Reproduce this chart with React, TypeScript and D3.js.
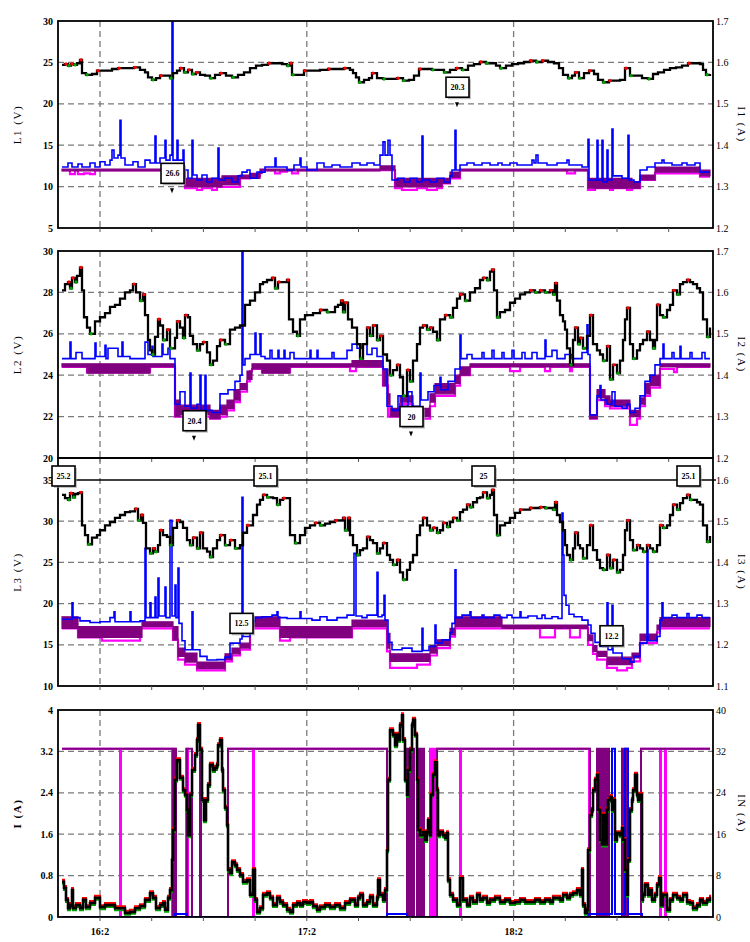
import React from "react";
import * as d3 from "d3";

type P = [number, number];
type B = [number, number, number];

// time axis: sample index, minor tick every 51.7 samples
const firstTick = 38;
const tickStep = 51.7;
const timeLabels = ["16:2", "17:2", "18:2"];

// ---------- L1 ----------
const l1Ticks = [5, 10, 15, 20, 25, 30];
const l1RightTicks = [1.2, 1.3, 1.4, 1.5, 1.6, 1.7];
const l1Black: P[] = [[0,24.7],[3,24.8],[6,24.6],[9,24.8],[12,24.7],[15,24.9],[18,25.3],[20,23.7],[24,23.5],[30,23.6],[35,24.0],[43,24.0],[50,24.2],[56,24.3],[64,24.3],[72,24.4],[78,24.1],[83,23.8],[86,23.2],[90,22.9],[94,23.1],[98,23.4],[104,23.4],[108,23.1],[111,23.7],[115,24.0],[118,24.3],[122,23.8],[126,24.1],[130,23.6],[134,23.8],[138,23.5],[143,23.4],[148,23.1],[153,23.5],[158,23.7],[164,23.4],[170,23.2],[176,23.5],[182,23.8],[188,24.3],[194,24.6],[200,24.7],[206,24.9],[213,24.9],[220,24.8],[225,24.6],[228,24.9],[230,23.5],[236,23.5],[242,24.0],[250,24.0],[258,24.1],[266,24.2],[274,24.2],[282,24.3],[288,24.1],[291,23.7],[294,23.2],[297,22.6],[302,22.9],[307,23.1],[310,23.7],[315,23.1],[321,23.0],[328,23.0],[335,23.1],[341,22.8],[347,22.9],[352,23.4],[357,24.2],[363,24.2],[370,24.1],[376,24.1],[382,23.8],[388,24.1],[394,24.3],[400,24.1],[406,24.6],[412,24.8],[418,25.05],[424,24.9],[430,24.9],[434,24.6],[438,24.3],[444,24.6],[450,24.8],[456,24.9],[462,25.05],[468,25.2],[474,25.05],[480,25.2],[486,25.05],[492,24.9],[497,24.3],[501,23.5],[506,23.1],[510,23.4],[513,23.8],[517,23.1],[522,23.7],[527,24.0],[532,23.6],[536,22.9],[541,22.6],[547,22.8],[553,22.8],[558,22.9],[563,24.3],[568,23.4],[574,23.4],[580,23.1],[586,23.0],[591,23.6],[596,23.8],[602,24.1],[608,24.3],[614,24.4],[620,24.6],[626,24.9],[632,24.9],[638,24.8],[641,24.1],[644,23.5],[648,23.6]];
const l1Blue: P[] = [[0,12.36],[6,12.85],[10,12.36],[16,12.73],[20,12.36],[28,12.85],[33,12.36],[38,13.0],[43,12.6],[48,13.2],[50,14.4],[52,13.45],[56,13.8],[58,18.0],[59,13.45],[63,12.6],[71,13.0],[76,12.36],[83,13.2],[88,12.85],[93,16.1],[94,12.85],[98,13.45],[103,15.6],[104,13.2],[108,13.8],[110,30],[111,13.2],[115,15.6],[116,13.2],[121,14.4],[122,12.0],[126,11.0],[130,15.6],[131,11.4],[135,10.8],[140,11.4],[145,10.55],[150,11.0],[156,14.65],[157,10.8],[163,11.0],[170,10.55],[176,11.3],[180,11.75],[185,12.0],[188,11.0],[195,11.75],[203,12.36],[205,12.36],[213,13.45],[214,12.36],[225,12.0],[232,12.6],[238,13.45],[239,12.36],[245,12.0],[255,12.85],[262,12.36],[270,12.6],[278,12.36],[290,12.85],[298,12.6],[305,12.85],[312,12.6],[318,13.8],[321,15.4],[323,13.8],[326,15.6],[328,13.8],[330,10.8],[336,11.0],[342,10.55],[348,11.0],[355,10.55],[360,16.1],[361,10.8],[368,10.55],[375,11.0],[382,10.55],[388,11.3],[390,12.0],[393,16.8],[394,12.0],[398,12.6],[405,12.85],[412,12.6],[420,12.85],[428,12.6],[436,12.85],[440,12.6],[448,12.85],[455,12.6],[470,13.2],[472,12.85],[474,13.8],[476,12.85],[485,12.6],[495,12.85],[505,13.2],[507,12.6],[515,12.6],[520,12.36],[526,15.7],[527,10.8],[535,15.6],[536,10.8],[540,15.6],[541,10.55],[545,14.4],[546,10.8],[550,16.95],[551,11.3],[560,11.0],[566,16.2],[567,10.8],[572,10.55],[578,12.0],[585,12.36],[593,12.85],[600,13.2],[602,12.85],[610,12.6],[620,12.85],[625,12.6],[633,12.85],[638,11.75],[648,11.75]];
const l1Band: B[] = [[0,12.1,11.9],[123,11.0,9.95],[160,11.3,10.2],[178,11.4,11.0],[188,11.6,11.0],[198,12.1,11.6],[200,12.1,11.9],[318,12.5,12.0],[333,11.0,9.95],[380,11.0,10.4],[388,11.75,11.1],[398,12.1,11.9],[526,11.0,9.8],[570,10.6,9.8],[578,11.4,10.8],[593,12.36,11.75],[638,12.0,11.3],[648,12.0,11.3]];
const l1Mag: P[] = [[0,12.0],[8,11.5],[13,12.0],[16,11.5],[22,11.6],[28,11.5],[33,12.0],[123,9.8],[135,9.6],[140,9.8],[150,9.6],[155,9.95],[178,11.0],[188,11.3],[198,11.75],[200,12.0],[213,11.6],[218,11.8],[225,12.0],[230,11.6],[236,12.0],[333,9.8],[340,9.6],[355,9.8],[365,9.6],[375,9.8],[380,10.4],[388,11.0],[398,12.0],[505,11.6],[513,12.0],[526,9.6],[533,9.8],[548,9.6],[551,9.8],[565,9.6],[570,9.8],[578,10.8],[593,11.6],[638,11.2],[648,11.2]];
const l1Notes = [{ t: 110, v: 11.6, label: "26.6" }, { t: 395, v: 22.0, label: "20.3" }];

// ---------- L2 ----------
const l2Ticks = [20, 22, 24, 26, 28, 30];
const l2RightTicks = [1.2, 1.3, 1.4, 1.5, 1.6, 1.7];
const l2Black: P[] = [[0,28.1],[3,28.4],[6,28.5],[8,28.2],[10,28.7],[13,28.5],[15,28.8],[18,29.2],[20,28.1],[22,26.8],[25,26.3],[28,26.0],[33,26.6],[38,26.8],[43,27.0],[48,27.3],[53,27.4],[58,27.7],[63,28.0],[68,28.1],[71,28.4],[74,28.0],[78,27.6],[81,27.9],[83,26.9],[86,25.7],[88,25.2],[90,25.0],[93,25.85],[96,26.7],[98,26.4],[101,25.7],[105,26.2],[108,25.3],[113,25.8],[115,26.6],[118,26.3],[121,25.8],[123,26.9],[126,26.8],[128,25.9],[131,25.5],[135,25.2],[138,25.5],[141,25.6],[145,25.1],[148,24.5],[151,24.7],[155,25.4],[158,25.7],[163,25.5],[168,26.2],[173,26.3],[178,26.4],[183,27.4],[188,27.6],[193,28.0],[198,28.4],[201,28.5],[205,28.6],[210,28.7],[213,28.2],[216,28.5],[221,28.5],[225,28.6],[227,26.7],[231,26.1],[235,25.9],[238,26.7],[243,26.9],[251,27.0],[258,27.15],[265,27.05],[273,27.3],[276,27.4],[279,27.6],[281,27.05],[283,27.5],[286,26.7],[290,26.3],[295,25.5],[298,24.8],[301,25.5],[305,26.3],[308,25.9],[311,26.4],[315,25.7],[318,25.9],[321,25.0],[325,24.7],[328,24.0],[331,24.25],[335,24.5],[338,23.9],[341,23.0],[345,24.25],[348,23.7],[351,24.7],[355,25.5],[358,26.3],[361,26.4],[365,26.2],[368,26.3],[371,26.1],[375,25.7],[378,26.7],[383,26.9],[388,26.8],[391,27.25],[395,27.7],[398,27.9],[403,27.6],[408,28.0],[413,28.2],[418,28.6],[421,28.7],[425,28.6],[428,29.0],[430,29.1],[432,28.1],[435,26.8],[438,27.05],[443,27.15],[448,27.5],[453,27.7],[458,27.9],[463,28.0],[468,28.1],[473,28.0],[478,28.1],[483,28.0],[488,28.1],[491,27.9],[493,28.45],[495,27.6],[498,26.9],[501,26.6],[503,26.2],[505,25.3],[508,24.5],[511,25.7],[513,26.3],[516,25.5],[518,25.8],[521,25.3],[525,25.9],[528,26.9],[531,25.5],[535,25.2],[538,25.0],[541,24.7],[545,25.4],[548,23.8],[551,24.5],[555,24.1],[558,24.7],[561,25.7],[563,26.7],[565,27.25],[568,25.5],[571,24.8],[575,25.2],[578,25.5],[581,25.7],[585,26.1],[588,25.7],[591,25.3],[593,25.7],[595,27.4],[598,26.9],[601,26.8],[605,27.15],[608,27.4],[611,28.1],[615,27.9],[618,28.4],[621,28.5],[625,28.6],[628,28.5],[631,28.4],[635,28.2],[638,28.0],[641,26.7],[645,25.85],[648,26.3]];
const l2Blue: P[] = [[0,24.8],[8,25.6],[9,24.8],[14,25.1],[20,24.8],[33,25.55],[34,24.9],[43,25.45],[44,24.8],[46,25.3],[56,24.9],[60,25.6],[61,24.9],[68,24.8],[83,25.6],[86,25.0],[90,25.4],[91,24.9],[100,25.5],[101,25.0],[106,25.3],[108,24.8],[113,22.6],[118,23.2],[123,22.5],[128,24.1],[129,22.4],[135,22.6],[138,24.0],[139,22.3],[143,24.0],[144,22.3],[150,22.2],[158,23.1],[166,23.3],[173,23.7],[178,24.0],[180,30],[181,24.5],[183,24.8],[188,25.0],[193,26.04],[194,25.0],[198,26.0],[199,24.9],[203,24.8],[208,25.2],[210,24.8],[216,25.2],[217,24.8],[222,25.2],[223,24.8],[228,25.1],[232,24.8],[248,25.2],[249,24.8],[255,25.2],[256,24.8],[270,25.1],[272,24.8],[285,25.2],[290,25.5],[295,25.3],[300,25.5],[305,25.0],[310,25.3],[315,24.9],[321,24.3],[325,22.5],[330,22.3],[336,23.0],[340,22.5],[346,23.2],[350,22.5],[358,24.1],[359,22.8],[366,23.2],[372,23.5],[378,23.9],[379,23.3],[386,23.7],[393,24.3],[398,25.94],[399,24.8],[405,25.0],[410,24.8],[420,25.1],[422,24.8],[430,25.2],[432,24.8],[440,25.1],[442,24.8],[450,25.2],[452,24.8],[460,25.1],[463,24.8],[470,25.1],[475,24.8],[483,25.7],[484,24.9],[490,25.2],[495,24.8],[503,25.0],[510,24.8],[520,25.1],[525,26.43],[526,25.0],[528,22.08],[535,23.0],[538,23.5],[539,22.8],[545,22.6],[550,23.2],[553,22.5],[560,22.4],[565,22.6],[568,22.2],[573,22.4],[578,23.0],[583,23.7],[588,24.0],[593,24.5],[598,24.8],[601,25.5],[602,24.8],[610,25.1],[612,24.8],[618,25.4],[619,24.8],[628,25.1],[630,24.8],[640,25.1],[643,24.8],[648,24.8]];
const l2Band: B[] = [[0,24.55,24.4],[25,24.55,24.1],[88,24.55,24.4],[113,22.8,22.0],[118,22.55,22.1],[148,22.3,21.9],[158,22.55,22.1],[165,22.8,22.4],[172,23.3,22.8],[178,23.6,23.3],[185,24.2,23.8],[190,24.55,24.3],[200,24.55,24.1],[228,24.55,24.4],[290,24.7,24.4],[321,24.3,23.5],[326,23.1,22.6],[328,22.4,22.0],[338,23.0,22.7],[351,22.4,22.0],[368,23.1,22.7],[373,23.6,23.1],[393,24.0,23.6],[398,24.4,24.0],[408,24.55,24.4],[528,22.1,21.9],[535,23.3,22.9],[543,23.0,22.6],[548,22.8,22.5],[568,22.3,22.0],[578,22.9,22.6],[583,23.6,23.1],[588,24.0,23.5],[598,24.55,24.4],[648,24.55,24.4]];
const l2Mag: P[] = [[0,24.4],[25,24.15],[88,24.4],[113,22.0],[148,21.9],[158,22.0],[165,22.3],[172,22.7],[178,23.2],[185,23.7],[188,24.2],[190,24.3],[200,24.15],[228,24.4],[288,24.2],[294,24.4],[321,23.5],[326,22.0],[338,22.6],[351,21.9],[368,22.5],[373,23.0],[393,23.5],[398,24.0],[408,24.4],[448,24.2],[458,24.4],[483,24.2],[488,24.4],[508,24.2],[510,24.4],[528,21.9],[535,22.8],[543,22.5],[548,22.4],[568,21.6],[575,21.9],[578,22.5],[583,23.0],[588,23.4],[598,24.3],[612,24.15],[615,24.4],[648,24.4]];
const l2Notes = [{ t: 132, v: 21.8, label: "20.4" }, { t: 349, v: 22.0, label: "20" }];

// ---------- L3 ----------
const l3Ticks = [10, 15, 20, 25, 30, 35];
const l3RightTicks = [1.1, 1.2, 1.3, 1.4, 1.5, 1.6];
const l3Black: P[] = [[0,33.2],[3,32.8],[6,32.6],[8,33.4],[11,32.9],[13,33.3],[16,33.4],[18,33.5],[20,29.5],[23,28.3],[26,27.2],[30,28.0],[35,28.3],[38,28.9],[43,29.5],[48,29.9],[53,30.4],[58,30.75],[63,31.1],[68,31.2],[73,31.5],[76,30.1],[79,30.75],[81,29.8],[84,26.7],[88,26.1],[91,26.7],[93,26.3],[96,27.1],[98,28.9],[101,28.3],[105,28.1],[108,27.1],[111,29.2],[115,30.1],[118,29.9],[121,29.2],[125,27.7],[128,27.1],[131,28.0],[135,26.7],[138,28.6],[141,26.7],[145,26.3],[148,25.65],[151,26.7],[155,27.7],[158,28.3],[163,27.1],[168,27.7],[173,26.7],[178,27.1],[181,28.6],[185,29.5],[188,29.5],[191,30.75],[195,32.0],[198,32.6],[201,33.2],[205,32.9],[208,32.9],[211,32.8],[215,32.0],[218,32.6],[221,32.8],[225,32.8],[228,28.3],[233,27.35],[238,28.3],[243,29.2],[248,29.5],[253,29.8],[258,29.5],[263,29.7],[268,29.9],[273,30.1],[278,30.1],[281,30.4],[283,28.9],[286,30.4],[288,28.3],[291,27.1],[295,25.9],[298,26.5],[301,26.7],[305,28.1],[308,27.7],[311,27.35],[315,26.1],[318,26.7],[321,27.35],[325,25.9],[328,25.3],[331,24.7],[335,25.3],[338,23.8],[341,22.9],[345,24.1],[348,25.0],[351,25.9],[355,28.3],[358,29.5],[361,30.4],[365,29.5],[368,28.9],[371,29.2],[375,28.6],[378,28.9],[381,29.8],[385,29.3],[388,29.9],[391,30.4],[395,30.1],[398,31.1],[401,31.4],[405,32.0],[408,31.7],[411,32.3],[415,32.8],[418,32.9],[421,33.5],[425,32.8],[428,33.2],[430,33.8],[432,30.75],[435,28.3],[438,29.5],[443,29.8],[448,30.4],[453,31.0],[458,31.4],[463,31.4],[468,31.6],[473,31.6],[478,31.7],[483,31.6],[488,31.6],[491,31.4],[493,32.3],[495,30.75],[498,29.9],[501,28.9],[503,27.1],[505,25.9],[508,25.3],[511,26.7],[513,28.6],[516,27.1],[518,26.7],[521,25.5],[525,27.1],[528,29.5],[531,26.5],[535,25.3],[538,24.3],[541,24.1],[545,25.9],[548,24.3],[551,25.3],[555,23.8],[558,24.1],[561,25.9],[563,28.9],[565,30.1],[568,27.7],[571,26.5],[575,27.1],[578,26.7],[581,26.3],[585,27.1],[588,26.7],[591,26.3],[595,27.1],[598,29.5],[601,29.2],[605,29.5],[608,30.75],[611,32.0],[615,31.4],[618,32.2],[621,32.8],[625,33.2],[628,32.6],[631,32.6],[635,32.3],[638,32.0],[641,29.5],[645,27.5],[648,28.2]];
const l3Blue: P[] = [[0,18.1],[10,20.1],[11,18.3],[18,17.9],[28,17.7],[38,17.8],[48,18.3],[52,19.0],[53,17.8],[62,17.8],[68,19.0],[69,17.8],[78,17.9],[83,26.7],[84,18.3],[88,20.1],[89,18.3],[93,20.8],[94,18.3],[96,23.1],[97,18.5],[103,22.0],[104,18.3],[108,30.1],[110,18.5],[113,22.25],[114,18.3],[116,24.3],[117,17.6],[120,15.5],[123,14.4],[130,19.0],[131,14.4],[138,13.6],[145,13.15],[155,13.2],[163,13.5],[168,15.2],[178,15.7],[180,32.9],[181,16.0],[188,17.8],[193,18.3],[200,18.4],[210,18.6],[215,19.0],[216,18.3],[225,18.2],[238,19.0],[239,18.2],[250,18.0],[258,18.4],[265,18.0],[275,18.3],[285,18.6],[292,26.1],[294,18.5],[300,18.3],[305,18.6],[315,23.8],[316,18.4],[320,18.6],[322,21.0],[323,18.0],[326,15.3],[330,14.4],[340,14.6],[350,14.2],[360,17.0],[361,14.3],[367,14.8],[373,17.4],[374,15.2],[380,15.6],[388,16.5],[390,17.6],[393,24.1],[394,18.3],[400,18.6],[408,19.0],[409,18.3],[420,18.6],[422,18.3],[432,18.6],[438,18.3],[445,18.6],[450,18.3],[458,19.0],[459,18.3],[466,18.5],[475,18.2],[480,18.6],[483,18.2],[490,18.4],[496,18.2],[500,31.0],[501,25.9],[502,21.0],[504,19.8],[507,18.7],[512,18.4],[520,18.0],[526,17.4],[529,16.4],[533,15.3],[538,14.8],[545,20.1],[546,14.4],[550,19.8],[551,14.0],[560,13.3],[568,12.9],[572,13.6],[578,15.2],[585,26.5],[586,15.5],[595,16.0],[598,18.0],[600,20.1],[601,18.3],[610,18.6],[615,18.3],[625,18.8],[627,18.3],[635,18.6],[640,18.3],[648,18.3]];
const l3Band: B[] = [[0,18.4,17.0],[16,17.2,15.9],[80,17.8,17.2],[111,17.2,15.6],[116,14.6,13.6],[123,14.0,12.9],[135,12.9,12.1],[163,13.9,13.2],[170,14.6,13.9],[178,15.2,14.6],[188,18.0,17.2],[193,18.4,17.2],[218,17.2,15.9],[290,18.0,17.2],[325,16.4,14.6],[328,13.9,13.0],[368,14.9,14.0],[375,15.6,14.9],[388,17.0,16.2],[393,18.4,17.2],[440,17.4,17.0],[526,16.2,15.5],[531,14.9,14.2],[535,14.2,13.6],[545,13.5,12.6],[570,14.0,13.4],[578,16.3,15.5],[595,17.4,16.8],[598,18.3,17.2],[648,18.3,17.2]];
const l3Mag: P[] = [[0,17.0],[16,15.9],[40,15.5],[78,17.0],[111,15.6],[116,13.2],[123,12.6],[135,11.9],[163,13.0],[170,13.7],[178,14.4],[188,17.0],[218,15.5],[228,15.9],[290,17.0],[325,14.2],[328,12.2],[355,12.6],[368,13.7],[375,14.6],[388,16.0],[393,17.0],[478,15.9],[493,17.0],[508,15.9],[518,17.0],[526,15.0],[531,13.9],[535,13.2],[545,12.2],[555,11.9],[565,12.2],[570,13.0],[578,15.2],[595,16.5],[598,17.0],[648,17.0]];
const l3Notes = [{ t: 179, v: 17.6, label: "12.5" }, { t: 549, v: 16.1, label: "12.2" }];
const l3Ref = 35;
const l3RefNotes = [{ t: 1, label: "25.2" }, { t: 203, label: "25.1" }, { t: 421, label: "25" }, { t: 626, label: "25.1" }];

// ---------- I ----------
const iTicks = [0, 0.8, 1.6, 2.4, 3.2, 4];
const iRightTicks = [0, 8, 16, 24, 32, 40];
const iBlack: P[] = [[0,0.68],[2,0.56],[4,0.33],[6,0.17],[8,0.23],[10,0.52],[11,0.17],[14,0.23],[18,0.17],[21,0.33],[24,0.19],[28,0.27],[33,0.37],[38,0.19],[43,0.23],[48,0.23],[53,0.17],[58,0.17],[63,0.08],[68,0.10],[73,0.17],[78,0.21],[83,0.33],[88,0.46],[91,0.37],[94,0.17],[98,0.23],[101,0.27],[103,0.14],[106,0.37],[108,0.52],[110,1.10],[111,1.68],[113,2.65],[115,3.03],[118,2.69],[121,2.45],[123,2.36],[125,2.07],[126,1.58],[128,2.36],[130,2.84],[133,3.13],[135,3.42],[136,3.71],[138,3.23],[140,2.26],[142,1.87],[144,2.26],[146,2.55],[148,2.94],[151,2.84],[153,2.88],[155,2.94],[156,3.32],[158,3.42],[160,2.84],[161,2.45],[163,2.11],[165,1.78],[166,0.91],[168,0.85],[170,1.06],[173,1.0],[175,0.91],[178,0.81],[181,0.68],[185,0.71],[188,0.43],[191,0.91],[193,0.33],[195,0.10],[198,0.17],[201,0.43],[205,0.46],[208,0.37],[211,0.23],[215,0.37],[218,0.29],[221,0.23],[225,0.14],[228,0.10],[231,0.23],[235,0.27],[238,0.23],[241,0.29],[245,0.27],[248,0.29],[251,0.21],[255,0.14],[258,0.19],[263,0.23],[268,0.19],[273,0.23],[278,0.17],[283,0.27],[288,0.33],[293,0.23],[296,0.37],[298,0.43],[301,0.23],[305,0.29],[308,0.39],[311,0.23],[315,0.37],[316,0.71],[318,0.43],[321,0.33],[323,0.52],[325,1.29],[326,2.65],[328,3.61],[331,3.52],[333,3.32],[335,3.52],[336,3.42],[338,3.71],[340,3.90],[341,3.42],[343,2.65],[345,2.36],[346,2.84],[348,3.23],[350,3.71],[351,3.81],[353,3.52],[355,2.65],[356,1.68],[358,1.58],[361,1.64],[363,1.49],[365,1.64],[366,1.87],[368,1.58],[369,2.36],[371,2.75],[373,2.99],[375,2.45],[376,1.58],[378,1.64],[381,1.58],[383,1.53],[385,1.62],[386,0.71],[388,0.43],[391,0.33],[395,0.23],[398,0.75],[401,0.33],[405,0.23],[408,0.37],[411,0.29],[415,0.43],[418,0.33],[421,0.37],[425,0.27],[428,0.33],[433,0.37],[438,0.29],[443,0.33],[448,0.27],[453,0.29],[458,0.33],[463,0.29],[468,0.29],[473,0.33],[478,0.29],[483,0.33],[488,0.29],[491,0.37],[495,0.37],[498,0.33],[501,0.43],[505,0.37],[508,0.43],[511,0.46],[515,0.52],[518,0.43],[520,0.91],[521,0.23],[523,0.08],[525,0.14],[526,1.29],[528,1.97],[530,2.07],[531,2.45],[533,2.65],[535,2.75],[536,2.07],[538,1.49],[540,1.40],[541,1.97],[543,1.40],[545,2.07],[546,2.26],[548,2.32],[550,2.07],[551,2.26],[553,1.49],[555,1.62],[558,1.58],[560,1.72],[561,1.49],[563,0.91],[565,0.43],[566,1.10],[568,2.07],[570,2.26],[571,2.45],[573,2.75],[575,2.36],[576,2.26],[578,2.36],[580,0.33],[581,0.43],[583,0.62],[586,0.43],[588,0.52],[590,0.33],[593,0.43],[595,0.62],[597,0.75],[599,0.23],[601,0.43],[605,0.14],[608,0.33],[611,0.43],[615,0.37],[618,0.33],[621,0.43],[625,0.29],[628,0.27],[631,0.17],[635,0.23],[638,0.33],[641,0.27],[645,0.33],[648,0.39]];
const iPurple: P[] = [[0,3.25],[111,0],[113,3.25],[114,0],[125,3.25],[130,0],[138,3.25],[139,0],[166,3.25],[325,0],[345,3.25],[346,0],[347,3.25],[348,0],[349,3.25],[350,0],[351,3.25],[352,0],[355,3.25],[356,0],[357,3.25],[358,0],[359,3.25],[360,0],[361,3.25],[362,0],[375,3.25],[528,0],[535,3.25],[536,0],[537,3.25],[538,0],[540,3.25],[541,0],[543,3.25],[544,0],[546,3.25],[547,0],[560,3.25],[561,0],[562,3.25],[563,0],[565,3.25],[566,0],[579,3.25],[648,3.25]];
const iMag: P[] = [[0,3.25],[58,0],[59,3.25],[110,0],[112,3.25],[113,0],[124,3.25],[126,0],[166,3.25],[191,0],[192,3.25],[325,0],[368,3.25],[369,0],[370,3.25],[371,0],[372,3.25],[373,0],[374,3.25],[398,0],[399,3.25],[527,0],[579,3.25],[598,0],[599,3.25],[603,0],[604,3.25],[648,3.25]];
const iBlue: P[] = [[0,0],[113,0.06],[125,0],[325,0.06],[345,0],[526,0.06],[550,3.25],[553,0.06],[563,3.25],[566,0.06],[580,0],[648,0]];

const FONT = "'Liberation Serif', 'DejaVu Serif', serif";
const x = d3.scaleLinear().domain([-4, 651]).range([58, 713]);
const minorTicks = d3.range(12).map((k) => firstTick + k * tickStep);
const majorTicks = [0, 4, 8].map((k) => firstTick + k * tickStep);

type Panel = {
  id: string;
  frameTop: number;
  frameBottom: number;
  rangeTop: number;
  domain: [number, number];
  ticks: number[];
  rTicks: number[];
  fmt: (v: number) => string;
  rFmt: (v: number) => string;
  title: string;
  rTitle: string;
  bold?: boolean;
};

const panels: Panel[] = [
  { id: "p1", frameTop: 21, frameBottom: 228, rangeTop: 21, domain: [5, 30], ticks: l1Ticks, rTicks: l1RightTicks, fmt: d3.format("d"), rFmt: d3.format(".1f"), title: "L1 (V)", rTitle: "I1 (A)" },
  { id: "p2", frameTop: 251, frameBottom: 458, rangeTop: 251, domain: [20, 30], ticks: l2Ticks, rTicks: l2RightTicks, fmt: d3.format("d"), rFmt: d3.format(".1f"), title: "L2 (V)", rTitle: "I2 (A)" },
  { id: "p3", frameTop: 458, frameBottom: 686, rangeTop: 480, domain: [10, 35], ticks: l3Ticks, rTicks: l3RightTicks, fmt: d3.format("d"), rFmt: d3.format(".1f"), title: "L3 (V)", rTitle: "I3 (A)" },
  { id: "p4", frameTop: 710, frameBottom: 917, rangeTop: 710, domain: [0, 4], ticks: iTicks, rTicks: iRightTicks, fmt: (v) => (v === 0 || v === 4 ? String(v) : d3.format(".1f")(v)), rFmt: d3.format("d"), title: "I (A)", rTitle: "IN (A)", bold: true },
];

function yScale(p: Panel) {
  return d3.scaleLinear().domain(p.domain).range([p.frameBottom, p.rangeTop]);
}

function stepPath(data: P[], y: d3.ScaleLinear<number, number>) {
  return d3.line<P>().x((d) => x(d[0])).y((d) => y(d[1])).curve(d3.curveStepAfter)(data) || "";
}
function bandPath(data: B[], y: d3.ScaleLinear<number, number>) {
  return d3.area<B>().x((d) => x(d[0])).y0((d) => y(d[2])).y1((d) => y(d[1])).curve(d3.curveStepAfter)(data) || "";
}
function extremes(data: P[]) {
  const hi: P[] = [];
  const lo: P[] = [];
  for (let i = 1; i < data.length - 1; i++) {
    const a = data[i - 1][1], b = data[i][1], c = data[i + 1][1];
    if (b > a && b >= c) hi.push(data[i]);
    else if (b < a && b <= c) lo.push(data[i]);
  }
  return { hi, lo };
}

function Note({ cx, cy, label, marker }: { cx: number; cy: number; label: string; marker?: boolean }) {
  return (
    <g>
      <rect x={cx - 11 + 2} y={cy - 10 + 2} width={23} height={20} fill="#9a9a9a" opacity={0.6} />
      <rect x={cx - 11} y={cy - 10} width={23} height={20} fill="#fff" stroke="#000" strokeWidth={1.6} />
      <text x={cx + 0.5} y={cy + 3} textAnchor="middle" fontFamily={FONT} fontWeight="bold" fontSize={8}>{label}</text>
      {marker && <path d={`M${cx - 2},${cy + 15}L${cx + 2},${cy + 15}L${cx},${cy + 20}Z`} fill="#000" />}
    </g>
  );
}

function Frame({ p, children }: { p: Panel; children: React.ReactNode }) {
  const y = yScale(p);
  const inner = p.ticks.slice(1, -1);
  return (
    <g>
      <clipPath id={`clip-${p.id}`}>
        <rect x={58} y={p.frameTop} width={655} height={p.frameBottom - p.frameTop} />
      </clipPath>
      {/* grid */}
      {inner.map((t) => (
        <line key={t} x1={58} x2={713} y1={y(t)} y2={y(t)} stroke="#7a7a7a" strokeWidth={1.3} strokeDasharray="6,4" />
      ))}
      {majorTicks.map((t) => (
        <line key={t} x1={x(t)} x2={x(t)} y1={p.frameTop} y2={p.frameBottom} stroke="#7a7a7a" strokeWidth={1.3} strokeDasharray="6,4" />
      ))}
      <g clipPath={`url(#clip-${p.id})`}>{children}</g>
      <rect x={58} y={p.frameTop} width={655} height={p.frameBottom - p.frameTop} fill="none" stroke="#000" strokeWidth={1.8} />
      {minorTicks.map((t) => (
        <line key={t} x1={x(t)} x2={x(t)} y1={p.frameBottom} y2={p.frameBottom + 4} stroke="#555" strokeWidth={1} />
      ))}
      {p.ticks.map((t) => (
        <text key={t} x={53} y={y(t) + 3.5} textAnchor="end" fontFamily={FONT} fontWeight="bold" fontSize={10}>{p.fmt(t)}</text>
      ))}
      {p.rTicks.map((t, i) => (
        <text key={t} x={716} y={y(p.ticks[i]) + 3.5} textAnchor="start" fontFamily={FONT} fontSize={10}>{p.rFmt(t)}</text>
      ))}
      <text transform={`translate(21,${(p.frameTop + p.frameBottom) / 2}) rotate(-90)`} textAnchor="middle" fontFamily={FONT} fontWeight={p.bold ? "bold" : "normal"} fontSize={11} letterSpacing={1.5}>{p.title}</text>
      <text transform={`translate(738,${(p.frameTop + p.frameBottom) / 2}) rotate(90)`} textAnchor="middle" fontFamily={FONT} fontSize={11} letterSpacing={1.5}>{p.rTitle}</text>
    </g>
  );
}

function VoltagePanel({ p, black, blue, band, mag }: { p: Panel; black: P[]; blue: P[]; band: B[]; mag: P[] }) {
  const y = yScale(p);
  const ex = extremes(black);
  return (
    <Frame p={p}>
      <path d={stepPath(mag, y)} fill="none" stroke="#ff00ff" strokeWidth={2.2} />
      <path d={bandPath(band, y)} fill="#800080" stroke="#800080" strokeWidth={1.2} />
      <path d={stepPath(blue, y)} fill="none" stroke="#0000ff" strokeWidth={1.6} />
      <path d={stepPath(black, y)} fill="none" stroke="#000" strokeWidth={2.3} />
      {ex.hi.map((d, i) => (
        <circle key={`h${i}`} cx={x(d[0]) + 1} cy={y(d[1])} r={1.7} fill="#ff0000" />
      ))}
      {ex.lo.map((d, i) => (
        <circle key={`l${i}`} cx={x(d[0]) + 1} cy={y(d[1])} r={1.7} fill="#00a000" />
      ))}
    </Frame>
  );
}

function CurrentPanel({ p }: { p: Panel }) {
  const y = yScale(p);
  const bp = stepPath(iBlack, y);
  return (
    <Frame p={p}>
      <path d={stepPath(iMag, y)} fill="none" stroke="#ff00ff" strokeWidth={2} />
      <path d={stepPath(iPurple, y)} fill="none" stroke="#800080" strokeWidth={2} />
      <path d={stepPath(iBlue, y)} fill="none" stroke="#0000ff" strokeWidth={2} />
      <path d={bp} fill="none" stroke="#ff0000" strokeWidth={2} transform="translate(0,-2)" />
      <path d={bp} fill="none" stroke="#00a000" strokeWidth={2} transform="translate(0,2)" />
      <path d={bp} fill="none" stroke="#000" strokeWidth={2.6} />
    </Frame>
  );
}

export default function App() {
  const [p1, p2, p3, p4] = panels;
  const y1 = yScale(p1), y2 = yScale(p2), y3 = yScale(p3);
  return (
    <svg width={750} height={942} style={{ position: "absolute", left: 0, top: 0, background: "#fff" }}>
      <rect width={750} height={942} fill="#fff" />
      <VoltagePanel p={p1} black={l1Black} blue={l1Blue} band={l1Band} mag={l1Mag} />
      <VoltagePanel p={p2} black={l2Black} blue={l2Blue} band={l2Band} mag={l2Mag} />
      <VoltagePanel p={p3} black={l3Black} blue={l3Blue} band={l3Band} mag={l3Mag} />
      <CurrentPanel p={p4} />
      {/* L3 reference line */}
      <line x1={58} x2={716} y1={y3(l3Ref)} y2={y3(l3Ref)} stroke="#000" strokeWidth={1.6} />
      {l3RefNotes.map((n) => (
        <Note key={n.t} cx={x(n.t)} cy={y3(l3Ref) - 4} label={n.label} />
      ))}
      {l1Notes.map((n) => (
        <Note key={n.t} cx={x(n.t)} cy={y1(n.v)} label={n.label} marker />
      ))}
      {l2Notes.map((n) => (
        <Note key={n.t} cx={x(n.t)} cy={y2(n.v)} label={n.label} marker />
      ))}
      {l3Notes.map((n) => (
        <Note key={n.t} cx={x(n.t)} cy={y3(n.v)} label={n.label} />
      ))}
      {majorTicks.map((t, i) => (
        <text key={t} x={x(t)} y={935} textAnchor="middle" fontFamily={FONT} fontWeight="bold" fontSize={10}>{timeLabels[i]}</text>
      ))}
    </svg>
  );
}
